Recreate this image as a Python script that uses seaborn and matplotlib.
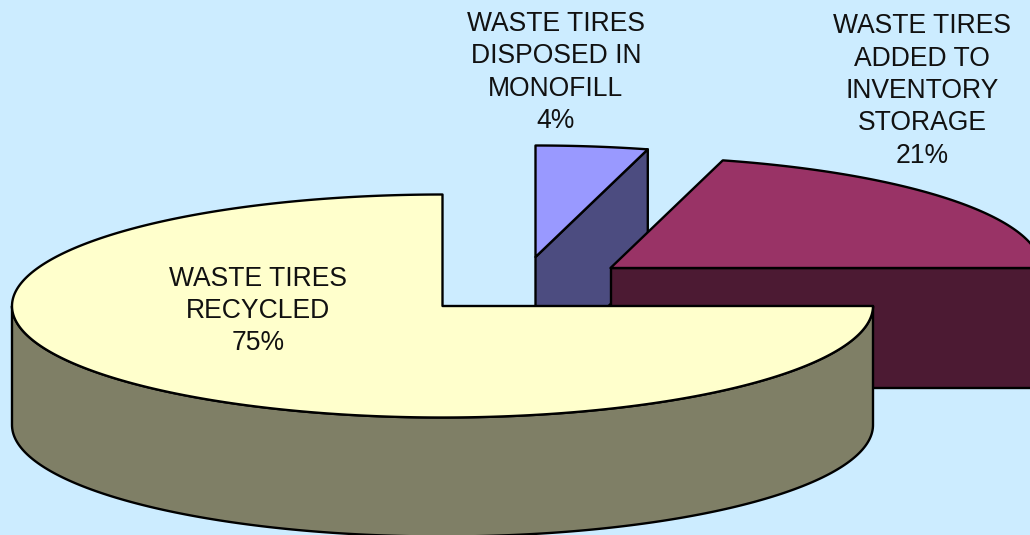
import numpy as np
import matplotlib
matplotlib.use("Agg")
import matplotlib.pyplot as plt
import seaborn as sns

# shares as drawn; the printed labels are rounded
names = ["WASTE TIRES\nRECYCLED", "WASTE TIRES\nADDED TO\nINVENTORY\nSTORAGE", "WASTE TIRES\nDISPOSED IN\nMONOFILL"]
shares = [75.0, 20.8, 4.2]
printed = ["75%", "21%", "4%"]
top_colors = ["#FFFFCC", "#993366", "#9999FF"]
side_colors = ["#7F7F66", "#4C1A33", "#4C4C80"]

BG = "#CCECFF"
RX, RY, DEPTH = 430.5, 111.5, 119
LW = 1.7

sns.set_theme(style="white")
plt.rcParams["font.family"] = ["Liberation Sans", "DejaVu Sans"]


def rim(cx, cy, a0, a1, n=200):
    t = np.radians(np.linspace(a0, a1, n))
    return cx + RX * np.cos(t), cy - RY * np.sin(t)


def draw_shape(ax, x, y, color):
    ax.fill(x, y, facecolor=color, edgecolor="black", linewidth=LW, joinstyle="round", clip_on=True)


fig, ax = plt.subplots(figsize=(10.3, 5.35), dpi=100)
fig.patch.set_facecolor(BG)
ax.set_facecolor(BG)
ax.set_position([0, 0, 1, 1])
ax.set_xlim(0, 1030)
ax.set_ylim(535, 0)
ax.set_xticks([])
ax.set_yticks([])
sns.despine(ax=ax, left=True, bottom=True)

# slice angles, pie runs clockwise from 12 o'clock with the big slice last
a_blue = 90 - shares[2] * 3.6
a_yellow_start = 90
a_yellow_end = 90 + shares[0] * 3.6

# blue slice: back piece, cut wall first
bx, by = 535.5, 257
ex = bx + RX * np.cos(np.radians(a_blue))
ey = by - RY * np.sin(np.radians(a_blue))
draw_shape(ax, [bx, ex, ex, bx], [by, ey, ey + DEPTH, by + DEPTH], side_colors[2])
x, y = rim(bx, by, a_blue, 90, 40)
draw_shape(ax, np.r_[bx, x], np.r_[by, y], top_colors[2])

# maroon slice
mx, my = 610.5, 268
x, y = rim(mx, my, 0, a_blue, 120)
draw_shape(ax, [mx, mx + RX, mx + RX, mx], [my, my, my + DEPTH + 1, my + DEPTH + 1], side_colors[1])
draw_shape(ax, np.r_[mx, x], np.r_[my, y], top_colors[1])

# yellow slice, wall then top
yx, yy = 442.5, 306
x0, y0 = rim(yx, yy, 180, 360)
x1, y1 = rim(yx, yy + DEPTH, 360, 180)
draw_shape(ax, np.r_[x0, x1], np.r_[y0, y1], side_colors[0])
x, y = rim(yx, yy, a_yellow_start, a_yellow_end, 400)
draw_shape(ax, np.r_[yx, x], np.r_[yy, y], top_colors[0])

label_pos = [(258, 311), (922, 91), (556, 72.5)]
for name, pct, (tx, ty) in zip(names, printed, label_pos):
    ax.text(tx, ty, f"{name}\n{pct}", ha="center", va="center", fontsize=19.1,
            linespacing=1.32, color="#111111")

fig.savefig("out.png", dpi=100, facecolor=BG)
plt.close(fig)
